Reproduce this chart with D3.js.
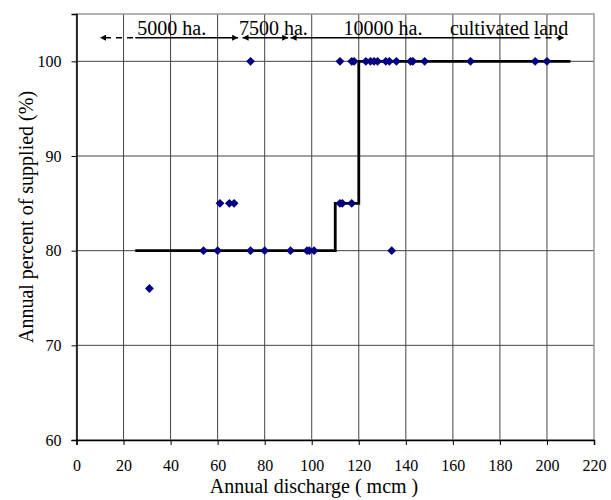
<!DOCTYPE html>
<html>
<head>
<meta charset="utf-8">
<script src="https://cdn.jsdelivr.net/npm/d3@7"></script>
<style>
  body { margin: 0; background: #fff; }
  svg text { font-family: "Liberation Serif", "Times New Roman", serif; }
</style>
</head>
<body>
<div id="chart"></div>
<script>
// observed points (annual discharge, % supplied)
let discharge = [31, 54, 60, 74, 80, 91, 98, 99, 101, 134,
                 61, 65, 67, 112, 113, 117,
                 74, 112, 117, 118, 123, 125, 126.5, 128, 131.5, 133, 136, 142, 143, 148, 167.5, 195, 200];
let supplied  = [76, 80, 80, 80, 80, 80, 80, 80, 80, 80,
                 85, 85, 85, 85, 85, 85,
                 100, 100, 100, 100, 100, 100, 100, 100, 100, 100, 100, 100, 100, 100, 100, 100, 100];

// step curve
let stepX = [25, 110, 110, 120, 120, 210];
let stepY = [80, 80, 85, 85, 100, 100];

// cultivated land zones
let zoneLabels = ["5000 ha.", "7500 ha.", "10000 ha.", "cultivated land"];
let zoneLabelX = [40.5, 83.7, 130.3, 183.9];
let zoneFrom = [10, 70.6, 91];
let zoneTo = [68.7, 90, 207.4];
let solidFrom = [25, 70.6, 91];
let solidTo = [68.7, 90, 192.6];
let dashFrom = [10, 192.6];
let dashTo = [25, 207.4];

let xTicks = d3.range(0, 221, 20);
let yTicks = [60, 70, 80, 90, 100];

let margin = {top: 14, right: 17, bottom: 60, left: 76.5},
    width = 611 - margin.left - margin.right,
    height = 500 - margin.top - margin.bottom;

let svg = d3.select("#chart")
    .append("svg")
    .attr("width", 611)
    .attr("height", 500)
    .append("g")
    .attr("transform", "translate(" + margin.left + "," + margin.top + ")");

let x = d3.scaleLinear().domain([0, 220]).range([0, width]);
let y = d3.scaleLinear().domain([60, 105]).range([height, 0]);

// grid
svg.append("g")
    .selectAll("line")
    .data(xTicks.slice(1, -1))
    .enter().append("line")
    .attr("x1", d => x(d)).attr("x2", d => x(d))
    .attr("y1", 0).attr("y2", height)
    .attr("stroke", "#444").attr("stroke-width", 1);
svg.append("g")
    .selectAll("line")
    .data(yTicks.slice(1))
    .enter().append("line")
    .attr("x1", 0).attr("x2", width)
    .attr("y1", d => y(d)).attr("y2", d => y(d))
    .attr("stroke", "#444").attr("stroke-width", 1);

// plot frame
svg.append("rect")
    .attr("width", width).attr("height", height)
    .attr("fill", "none").attr("stroke", "#999").attr("stroke-width", 1.5);

// axes
let xAxis = svg.append("g")
    .attr("transform", "translate(0," + height + ")")
    .call(d3.axisBottom(x).tickValues(xTicks).tickSize(5).tickPadding(15));
let yAxis = svg.append("g")
    .call(d3.axisLeft(y).tickValues(yTicks).tickSize(5).tickPadding(10));
[xAxis, yAxis].forEach(a => {
    a.attr("font-family", "Liberation Serif").attr("font-size", 16);
    a.select(".domain").attr("stroke", "#000").attr("stroke-width", 1.5);
    a.selectAll(".tick line").attr("stroke", "#000");
    a.selectAll("text").attr("fill", "#000");
});

// step line
let line = d3.line()
    .x((d, i) => x(stepX[i]))
    .y((d, i) => y(stepY[i]));
svg.append("path")
    .attr("d", line(stepX))
    .attr("fill", "none")
    .attr("stroke", "#000")
    .attr("stroke-width", 2.8);

// points
svg.append("g")
    .selectAll("path")
    .data(discharge)
    .enter().append("path")
    .attr("d", d3.symbol().type(d3.symbolDiamond2).size(50))
    .attr("transform", (d, i) => "translate(" + x(d) + "," + y(supplied[i]) + ")")
    .attr("fill", "#000080");

// zone arrows
let defs = svg.append("defs");
defs.append("marker")
    .attr("id", "ah")
    .attr("viewBox", "0 0 10 10")
    .attr("refX", 10).attr("refY", 5)
    .attr("markerWidth", 7).attr("markerHeight", 6)
    .attr("markerUnits", "userSpaceOnUse")
    .attr("orient", "auto-start-reverse")
    .append("path").attr("d", "M0,0L10,5L0,10Z").attr("fill", "#000");

let arrowY = y(102.5);
zoneFrom.forEach((f, i) => {
    svg.append("line")
        .attr("x1", x(f)).attr("x2", x(zoneTo[i]))
        .attr("y1", arrowY).attr("y2", arrowY)
        .attr("stroke", "transparent")
        .attr("stroke-width", 1.5)
        .attr("marker-start", "url(#ah)")
        .attr("marker-end", "url(#ah)");
});
solidFrom.forEach((f, i) => {
    svg.append("line")
        .attr("x1", x(f)).attr("x2", x(solidTo[i]))
        .attr("y1", arrowY).attr("y2", arrowY)
        .attr("stroke", "#000").attr("stroke-width", 1.5);
});
dashFrom.forEach((f, i) => {
    svg.append("line")
        .attr("x1", x(f) + 5).attr("x2", x(dashTo[i]) - (i ? 5 : 0))
        .attr("y1", arrowY).attr("y2", arrowY)
        .attr("stroke", "#000").attr("stroke-width", 1.5)
        .attr("stroke-dasharray", "6,5");
});

svg.append("g")
    .selectAll("text")
    .data(zoneLabels)
    .enter().append("text")
    .attr("x", (d, i) => x(zoneLabelX[i]))
    .attr("y", arrowY - 3)
    .attr("text-anchor", "middle")
    .style("font-size", "20px")
    .text(d => d);

// axis titles
svg.append("text")
    .attr("x", 314 - margin.left)
    .attr("y", 493 - margin.top)
    .attr("text-anchor", "middle")
    .style("font-size", "20px")
    .text("Annual discharge ( mcm )");
svg.append("text")
    .attr("transform", "rotate(-90)")
    .attr("x", -(217 - margin.top))
    .attr("y", 33 - margin.left)
    .attr("text-anchor", "middle")
    .style("font-size", "20px")
    .text("Annual percent of supplied (%)");
</script>
</body>
</html>
